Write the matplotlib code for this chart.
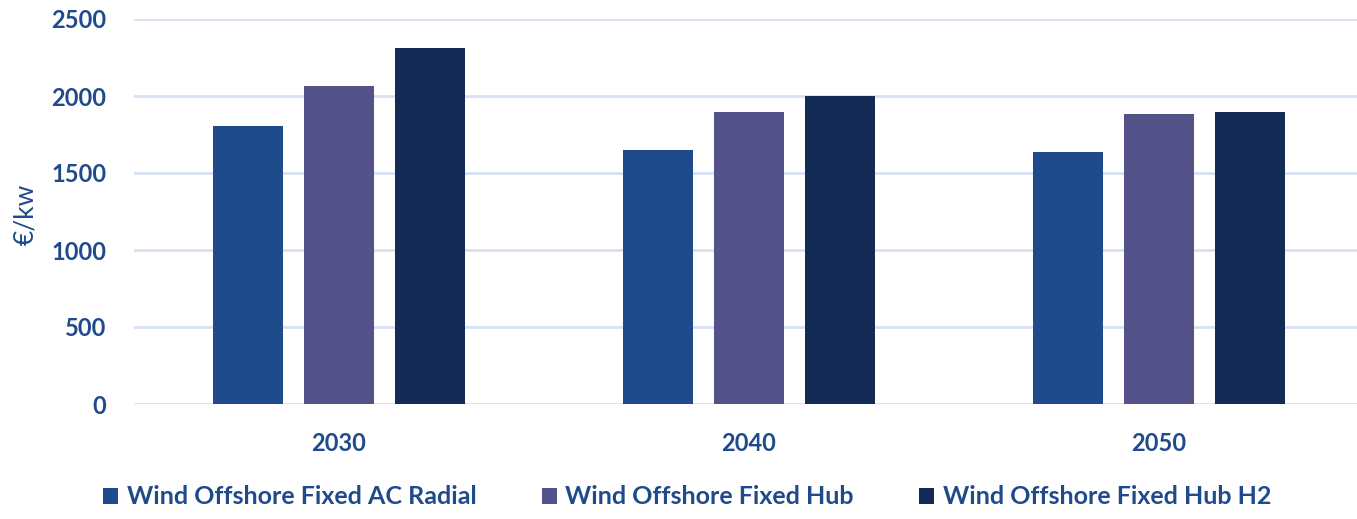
import numpy as np
import matplotlib
matplotlib.use("Agg")
import matplotlib.pyplot as plt
from matplotlib.patches import Patch

# Costes de inversión eólica marina (€/kW)
years = ["2030", "2040", "2050"]
series = ["Wind Offshore Fixed AC Radial", "Wind Offshore Fixed Hub", "Wind Offshore Fixed Hub H2"]
ac_radial = [1805, 1650, 1637]
hub = [2065, 1897, 1884]
hub_h2 = [2312, 2003, 1897]

colors = ["#1F4A8C", "#545389", "#142B55"]
text_color = "#1F4A8C"
grid_color = "#D6E1F3"

plt.rcParams["font.family"] = ["Lato", "DejaVu Sans"]

W, H = 1357, 519
fig = plt.figure(figsize=(W / 100, H / 100), dpi=100)
ax = fig.add_axes([134 / W, 1 - 404 / H, 1230 / W, (404 - 19) / H])

x = np.arange(len(years))
width = 0.173
step = 0.222
for i, (vals, col) in enumerate(zip([ac_radial, hub, hub_h2], colors)):
    ax.bar(x + (i - 1) * step, vals, width=width, color=col, zorder=3)

ax.set_xlim(-0.5, 2.5)
ax.set_ylim(0, 2500)
ax.set_yticks(np.arange(0, 2501, 500))
ax.set_xticks(x)
ax.set_xticklabels(years)
ax.grid(axis="y", color=grid_color, lw=2, zorder=0)
ax.set_axisbelow(True)
for s in ax.spines.values():
    s.set_visible(False)
ax.tick_params(axis="both", length=0, labelcolor=text_color, labelsize=17)
ax.tick_params(axis="y", pad=20)
ax.tick_params(axis="x", pad=20)
for lbl in ax.get_xticklabels() + ax.get_yticklabels():
    lbl.set_fontweight("bold")

fig.text(26 / W, 1 - 214 / H, "€/kw", rotation=90, color=text_color,
         fontsize=19, ha="center", va="center")

handles = [Patch(facecolor=c, edgecolor="none") for c in colors]
leg = fig.legend(handles, series, loc="center", ncol=3,
                 bbox_to_anchor=(687 / W, 1 - 497 / H), frameon=False,
                 fontsize=18, handlelength=0.6, handleheight=0.6,
                 handletextpad=0.35, columnspacing=2.6)
for t in leg.get_texts():
    t.set_color(text_color)
    t.set_fontweight("bold")

fig.savefig("out.png", dpi=100)
